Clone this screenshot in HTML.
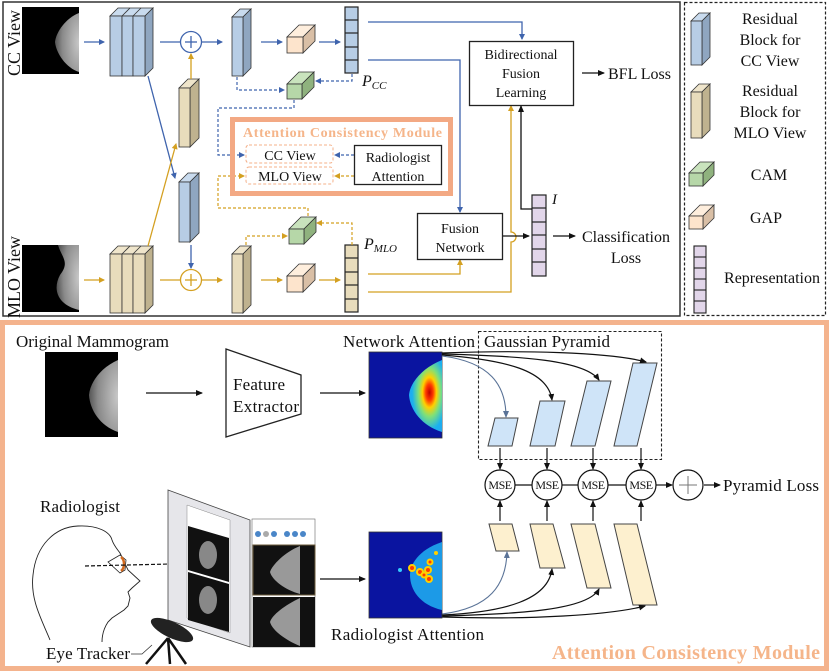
<!DOCTYPE html>
<html><head><meta charset="utf-8"><style>
html,body{margin:0;padding:0;background:#fff;}
svg{display:block;}
text{font-family:"Liberation Serif",serif;fill:#111;}
</style></head><body>
<svg width="829" height="671" viewBox="0 0 829 671" xmlns="http://www.w3.org/2000/svg">
<defs>
<marker id="ab" markerWidth="6" markerHeight="6" refX="5" refY="3" orient="auto" markerUnits="userSpaceOnUse"><path d="M0,0 L6,3 L0,6 z" fill="#3f64ad"/></marker>
<marker id="at" markerWidth="6" markerHeight="6" refX="5" refY="3" orient="auto" markerUnits="userSpaceOnUse"><path d="M0,0 L6,3 L0,6 z" fill="#d4a021"/></marker>
<marker id="ak" markerWidth="7" markerHeight="6" refX="6" refY="3" orient="auto" markerUnits="userSpaceOnUse"><path d="M0,0 L7,3 L0,6 z" fill="#111"/></marker>
<marker id="ag" markerWidth="7" markerHeight="6" refX="6" refY="3" orient="auto" markerUnits="userSpaceOnUse"><path d="M0,0 L7,3 L0,6 z" fill="#5a7397"/></marker>
<radialGradient id="mam" cx="1" cy="0.5" r="1"><stop offset="0" stop-color="#c8c8c8"/><stop offset="0.7" stop-color="#8a8a8a"/><stop offset="1" stop-color="#555"/></radialGradient>
<radialGradient id="heat" cx="0.62" cy="0.45" r="0.75"><stop offset="0" stop-color="#c00000"/><stop offset="0.15" stop-color="#ff3a00"/><stop offset="0.28" stop-color="#ffd000"/><stop offset="0.45" stop-color="#7ee07a"/><stop offset="0.7" stop-color="#1ab0f0"/><stop offset="1" stop-color="#2aa0f0"/></radialGradient>
</defs>

<rect x="3" y="2" width="677" height="314" fill="none" stroke="#333" stroke-width="1.5"/>
<rect x="684.5" y="2.5" width="141" height="313" fill="none" stroke="#222" stroke-width="1.2" stroke-dasharray="3,2"/>

<text transform="translate(20,43) rotate(-90)" text-anchor="middle" font-size="18">CC View</text>
<text transform="translate(20,277) rotate(-90)" text-anchor="middle" font-size="18">MLO View</text>
<rect x="22" y="7" width="57" height="67" fill="#000"/>
<path d="M79,13 C66,18 56,32 55,42 C56,53 66,68 79,72 z" fill="url(#mam)"/>
<rect x="22" y="245" width="57" height="67" fill="#000"/>
<path d="M58,245 C62,258 70,262 60,275 C52,290 58,305 79,310 L79,245 z" fill="url(#mam)"/>

<g stroke="#333" stroke-width="0.8">
<polygon points="110,16 118,8 153,8 145,16" fill="#c9dbee"/>
<polygon points="145,16 153,8 153,68 145,76" fill="#8fa6c0"/>
<rect x="110" y="16" width="12" height="60" fill="#b7cde5"/>
<rect x="122" y="16" width="11" height="60" fill="#b7cde5"/>
<rect x="133" y="16" width="12" height="60" fill="#b7cde5"/>
<line x1="122" y1="16" x2="130" y2="8"/><line x1="133" y1="16" x2="141" y2="8"/>
</g>
<g stroke="#333" stroke-width="0.8">
<polygon points="110,254 118,246 153,246 145,254" fill="#efe5cb"/>
<polygon points="145,254 153,246 153,305 145,313" fill="#bfb28f"/>
<rect x="110" y="254" width="12" height="59" fill="#e8dcbc"/>
<rect x="122" y="254" width="11" height="59" fill="#e8dcbc"/>
<rect x="133" y="254" width="12" height="59" fill="#e8dcbc"/>
<line x1="122" y1="254" x2="130" y2="246"/><line x1="133" y1="254" x2="141" y2="246"/>
</g>
<g stroke="#333" stroke-width="0.8">
<polygon points="179,88 188,79 199,79 190,88" fill="#efe5cb"/>
<polygon points="190,88 199,79 199,138 190,147" fill="#bfb28f"/>
<rect x="179" y="88" width="11" height="59" fill="#e8dcbc"/>
<polygon points="179,182 188,173 199,173 190,182" fill="#c9dbee"/>
<polygon points="190,182 199,173 199,233 190,242" fill="#8fa6c0"/>
<rect x="179" y="182" width="11" height="60" fill="#b7cde5"/>
<polygon points="232,17 240,9 251,9 243,17" fill="#c9dbee"/>
<polygon points="243,17 251,9 251,68 243,76" fill="#8fa6c0"/>
<rect x="232" y="17" width="11" height="59" fill="#b7cde5"/>
<polygon points="232,254 240,246 251,246 243,254" fill="#efe5cb"/>
<polygon points="243,254 251,246 251,305 243,313" fill="#bfb28f"/>
<rect x="232" y="254" width="11" height="59" fill="#e8dcbc"/>
<polygon points="287,37 299,25 315,25 303,37" fill="#feeedd"/>
<polygon points="303,37 315,25 315,41 303,53" fill="#d9bfa6"/>
<rect x="287" y="37" width="16" height="16" fill="#fde4cc"/>
<polygon points="287,276 299,264 315,264 303,276" fill="#feeedd"/>
<polygon points="303,276 315,264 315,280 303,292" fill="#d9bfa6"/>
<rect x="287" y="276" width="16" height="16" fill="#fde4cc"/>
<polygon points="287,84 299,72 314,72 302,84" fill="#c9e3bd"/>
<polygon points="302,84 314,72 314,87 302,99" fill="#8fb27e"/>
<rect x="287" y="84" width="15" height="15" fill="#b6d7a8"/>
<polygon points="289,229 301,217 316,217 304,229" fill="#c9e3bd"/>
<polygon points="304,229 316,217 316,232 304,244" fill="#8fb27e"/>
<rect x="289" y="229" width="15" height="15" fill="#b6d7a8"/>
</g>
<g stroke="#222" stroke-width="1.2">
<rect x="345" y="7" width="13" height="66" fill="#b7cde5"/>
<line x1="345" y1="20" x2="358" y2="20"/><line x1="345" y1="33" x2="358" y2="33"/><line x1="345" y1="47" x2="358" y2="47"/><line x1="345" y1="60" x2="358" y2="60"/>
<rect x="345" y="245" width="13" height="67" fill="#e8dcbc"/>
<line x1="345" y1="258" x2="358" y2="258"/><line x1="345" y1="272" x2="358" y2="272"/><line x1="345" y1="285" x2="358" y2="285"/><line x1="345" y1="299" x2="358" y2="299"/>
<rect x="532" y="195" width="14" height="81" fill="#e2d6ea"/>
<line x1="532" y1="208" x2="546" y2="208"/><line x1="532" y1="222" x2="546" y2="222"/><line x1="532" y1="235" x2="546" y2="235"/><line x1="532" y1="249" x2="546" y2="249"/><line x1="532" y1="262" x2="546" y2="262"/>
</g>
<text x="362" y="86" font-size="16" font-style="italic">P<tspan font-size="11" dy="3">CC</tspan></text>
<text x="364" y="249" font-size="16" font-style="italic">P<tspan font-size="11" dy="3">MLO</tspan></text>
<text x="552" y="204" font-size="15" font-style="italic">I</text>

<g stroke="#3f64ad" stroke-width="1.3" fill="none">
<line x1="84" y1="42" x2="104" y2="42" marker-end="url(#ab)"/>
<line x1="160" y1="42" x2="180" y2="42"/>
<circle cx="191" cy="42" r="10.5"/>
<line x1="185" y1="42" x2="197" y2="42"/><line x1="191" y1="36" x2="191" y2="48"/>
<line x1="202" y1="42" x2="222" y2="42" marker-end="url(#ab)"/>
<line x1="261" y1="42" x2="282" y2="42" marker-end="url(#ab)"/>
<line x1="319" y1="42" x2="340" y2="42" marker-end="url(#ab)"/>
<line x1="148" y1="76" x2="175" y2="178" marker-end="url(#ab)"/>
<line x1="191" y1="245" x2="191" y2="268" marker-end="url(#ab)"/>
<polyline points="368,22 522,22 522,39" marker-end="url(#ab)"/>
<polyline points="368,60 460,60 460,212" marker-end="url(#ab)"/>
</g>
<g stroke="#3f64ad" stroke-width="1.2" fill="none" stroke-dasharray="3,2">
<polyline points="237,77 237,90 284,90" marker-end="url(#ab)"/>
<polyline points="352,74 352,81 316,81" marker-end="url(#ab)"/>
<polyline points="294,100 294,108 218,108 218,155 244,155" marker-end="url(#ab)"/>
<line x1="354" y1="155" x2="335" y2="155" marker-end="url(#ab)"/>
</g>
<g stroke="#d4a021" stroke-width="1.3" fill="none">
<line x1="84" y1="280" x2="104" y2="280" marker-end="url(#at)"/>
<line x1="160" y1="280" x2="180" y2="280"/>
<circle cx="191" cy="280" r="10.5"/>
<line x1="185" y1="280" x2="197" y2="280"/><line x1="191" y1="274" x2="191" y2="286"/>
<line x1="202" y1="280" x2="222" y2="280" marker-end="url(#at)"/>
<line x1="261" y1="280" x2="282" y2="280" marker-end="url(#at)"/>
<line x1="319" y1="280" x2="340" y2="280" marker-end="url(#at)"/>
<line x1="148" y1="246" x2="176" y2="144" marker-end="url(#at)"/>
<line x1="191" y1="79" x2="191" y2="54" marker-end="url(#at)"/>
<polyline points="368,274 460,274 460,260" marker-end="url(#at)"/>
<path d="M368,292 L511,292 L511,242 A5,5 0 0 0 511,232 L511,106" marker-end="url(#at)"/>
</g>
<g stroke="#d4a021" stroke-width="1.2" fill="none" stroke-dasharray="3,2">
<line x1="354" y1="176" x2="335" y2="176" marker-end="url(#at)"/>
<polyline points="308,216 308,208 218,208 218,176 244,176" marker-end="url(#at)"/>
<polyline points="246,245 246,236 287,236" marker-end="url(#at)"/>
<polyline points="352,245 352,223 317,223" marker-end="url(#at)"/>
</g>
<g stroke="#111" stroke-width="1.3" fill="none">
<line x1="503" y1="236" x2="529" y2="236" marker-end="url(#ak)"/>
<polyline points="532,209 521,209 521,106" marker-end="url(#ak)"/>
<line x1="553" y1="236" x2="575" y2="236" marker-end="url(#ak)"/>
<line x1="582" y1="73" x2="604" y2="73" marker-end="url(#ak)"/>
</g>

<rect x="232.5" y="119.5" width="218" height="74" fill="none" stroke="#f3a984" stroke-width="5"/>
<text x="243" y="137" font-size="14" font-weight="bold" style="fill:#f5b58a" textLength="199">Attention Consistency Module</text>
<rect x="246" y="145" width="87" height="18" rx="3" fill="none" stroke="#f4b08a" stroke-dasharray="3,2"/>
<rect x="246" y="167" width="87" height="17" rx="3" fill="none" stroke="#f4b08a" stroke-dasharray="3,2"/>
<text x="290" y="160" font-size="14" text-anchor="middle">CC View</text>
<text x="290" y="181" font-size="14" text-anchor="middle">MLO View</text>
<rect x="354.5" y="145.5" width="87" height="39" fill="#fff" stroke="#222" stroke-width="1.3"/>
<text x="398" y="162" font-size="14" text-anchor="middle">Radiologist</text>
<text x="398" y="181" font-size="14" text-anchor="middle">Attention</text>

<rect x="469.5" y="41.5" width="104" height="64" fill="#fff" stroke="#222" stroke-width="1.3"/>
<text x="521" y="59" font-size="14" text-anchor="middle">Bidirectional</text>
<text x="521" y="78" font-size="14" text-anchor="middle">Fusion</text>
<text x="521" y="97" font-size="14" text-anchor="middle">Learning</text>
<text x="608" y="79" font-size="16">BFL Loss</text>
<rect x="417.5" y="213.5" width="85" height="46" fill="#fff" stroke="#222" stroke-width="1.3"/>
<text x="460" y="233" font-size="14" text-anchor="middle">Fusion</text>
<text x="460" y="252" font-size="14" text-anchor="middle">Network</text>
<text x="626" y="242" font-size="16" text-anchor="middle">Classification</text>
<text x="626" y="263" font-size="16" text-anchor="middle">Loss</text>

<g stroke="#333" stroke-width="0.8">
<polygon points="691,21 699,13 710,13 702,21" fill="#c9dbee"/>
<polygon points="702,21 710,13 710,57 702,65" fill="#8fa6c0"/>
<rect x="691" y="21" width="11" height="44" fill="#b7cde5"/>
<polygon points="691,92 699,84 710,84 702,92" fill="#efe5cb"/>
<polygon points="702,92 710,84 710,130 702,138" fill="#bfb28f"/>
<rect x="691" y="92" width="11" height="46" fill="#e8dcbc"/>
<polygon points="689,173 700,162 714,162 703,173" fill="#c9e3bd"/>
<polygon points="703,173 714,162 714,175 703,186" fill="#8fb27e"/>
<rect x="689" y="173" width="14" height="13" fill="#b6d7a8"/>
<polygon points="689,216 700,205 714,205 703,216" fill="#feeedd"/>
<polygon points="703,216 714,205 714,218 703,229" fill="#d9bfa6"/>
<rect x="689" y="216" width="14" height="13" fill="#fde4cc"/>
</g>
<g stroke="#222" stroke-width="1.1">
<rect x="694" y="246" width="12" height="67" fill="#e2d6ea"/>
<line x1="694" y1="257" x2="706" y2="257"/><line x1="694" y1="268" x2="706" y2="268"/><line x1="694" y1="279" x2="706" y2="279"/><line x1="694" y1="290" x2="706" y2="290"/><line x1="694" y1="301" x2="706" y2="301"/>
</g>
<g font-size="16" text-anchor="middle">
<text x="770" y="24">Residual</text><text x="770" y="45">Block for</text><text x="770" y="66">CC View</text>
<text x="770" y="96">Residual</text><text x="770" y="117">Block for</text><text x="770" y="138">MLO View</text>
<text x="769" y="180">CAM</text><text x="766" y="223">GAP</text><text x="772" y="283">Representation</text>
</g>

<rect x="2.5" y="322.5" width="824" height="346" fill="none" stroke="#f4b38d" stroke-width="5"/>
<text x="16" y="347" font-size="17" textLength="153">Original Mammogram</text>
<rect x="45" y="352" width="73" height="85" fill="#000"/>
<path d="M118,360 C100,368 90,383 89,395 C90,410 100,426 118,432 z" fill="url(#mam)"/>
<line x1="146" y1="393" x2="202" y2="393" stroke="#111" stroke-width="1.3" marker-end="url(#ak)"/>
<polygon points="226,349 301,375 301,414 226,437" fill="#fff" stroke="#222" stroke-width="1.3"/>
<text x="233" y="390" font-size="17" textLength="52">Feature</text>
<text x="233" y="412" font-size="17" textLength="66">Extractor</text>
<line x1="320" y1="393" x2="365" y2="393" stroke="#111" stroke-width="1.3" marker-end="url(#ak)"/>
<text x="343" y="347" font-size="17" textLength="132">Network Attention</text>
<rect x="369" y="352" width="73" height="86" fill="#0a14a0" stroke="#333" stroke-width="0.8"/>
<path d="M442,360 C422,368 410,383 409,395 C410,410 422,426 442,432 z" fill="url(#heat)"/>

<rect x="478.5" y="331.5" width="183" height="128" fill="none" stroke="#222" stroke-width="1.1" stroke-dasharray="3,2"/>
<text x="484" y="347" font-size="17" textLength="126">Gaussian Pyramid</text>
<g fill="#cfe4f8" stroke="#444" stroke-width="1">
<polygon points="495,418 518,418 512,446 488,446"/>
<polygon points="540,401 565,401 555,446 530,446"/>
<polygon points="587,381 611,381 595,446 571,446"/>
<polygon points="633,363 657,363 637,446 614,446"/>
</g>
<g fill="#fdf0cf" stroke="#444" stroke-width="1">
<polygon points="489,524 512,524 519,551 496,551"/>
<polygon points="530,524 553,524 565,568 540,568"/>
<polygon points="571,524 595,524 611,588 587,588"/>
<polygon points="614,524 637,524 657,605 633,605"/>
</g>
<g stroke="#111" stroke-width="1.2" fill="none">
<path d="M442,353 C520,350 610,352 646,362" marker-end="url(#ak)"/>
<path d="M442,354 C520,356 585,360 599,380" marker-end="url(#ak)"/>
<path d="M442,355 C505,360 548,370 552,400" marker-end="url(#ak)"/>
<path d="M442,615 C505,612 548,600 552,569" marker-end="url(#ak)"/>
<path d="M442,616 C520,614 588,610 599,589" marker-end="url(#ak)"/>
<path d="M442,617 C530,620 610,615 645,606" marker-end="url(#ak)"/>
</g>
<path d="M442,356 C490,362 506,385 506,417" stroke="#5a7397" stroke-width="1.1" fill="none" marker-end="url(#ag)"/>
<path d="M442,614 C490,608 506,585 507,552" stroke="#5a7397" stroke-width="1.1" fill="none" marker-end="url(#ag)"/>

<g stroke="#111" stroke-width="1.2" fill="none">
<line x1="500" y1="448" x2="500" y2="469" marker-end="url(#ak)"/>
<line x1="547" y1="448" x2="547" y2="469" marker-end="url(#ak)"/>
<line x1="593" y1="448" x2="593" y2="469" marker-end="url(#ak)"/>
<line x1="641" y1="448" x2="641" y2="469" marker-end="url(#ak)"/>
<line x1="500" y1="521" x2="500" y2="501" marker-end="url(#ak)"/>
<line x1="547" y1="521" x2="547" y2="501" marker-end="url(#ak)"/>
<line x1="593" y1="521" x2="593" y2="501" marker-end="url(#ak)"/>
<line x1="641" y1="521" x2="641" y2="501" marker-end="url(#ak)"/>
<line x1="515" y1="485" x2="532" y2="485"/><line x1="562" y1="485" x2="578" y2="485"/><line x1="608" y1="485" x2="626" y2="485"/>
<line x1="656" y1="485" x2="672" y2="485" marker-end="url(#ak)"/>
<line x1="704" y1="485" x2="720" y2="485" marker-end="url(#ak)"/>
<circle cx="500" cy="485" r="15" fill="#fff"/><circle cx="547" cy="485" r="15" fill="#fff"/>
<circle cx="593" cy="485" r="15" fill="#fff"/><circle cx="641" cy="485" r="15" fill="#fff"/>
<circle cx="688" cy="485" r="15" fill="#fff"/>
</g>
<line x1="679" y1="485" x2="697" y2="485" stroke="#777" stroke-width="1"/>
<line x1="688" y1="476" x2="688" y2="494" stroke="#777" stroke-width="1"/>
<g font-size="12" text-anchor="middle" letter-spacing="-0.5">
<text x="500" y="489">MSE</text><text x="547" y="489">MSE</text>
<text x="593" y="489">MSE</text><text x="641" y="489">MSE</text>
</g>
<text x="723" y="491" font-size="17" textLength="96">Pyramid Loss</text>

<line x1="320" y1="579" x2="365" y2="579" stroke="#111" stroke-width="1.3" marker-end="url(#ak)"/>
<rect x="369" y="532" width="73" height="86" fill="#0a14a0" stroke="#333" stroke-width="0.8"/>
<path d="M442,542 C418,550 410,565 410,575 C410,590 420,605 442,610 z" fill="#1ea8ee" opacity="0.9"/>
<g fill="#ff3a00" stroke="#ffd000" stroke-width="2">
<circle cx="412" cy="568" r="3"/><circle cx="420" cy="572" r="3"/><circle cx="428" cy="570" r="3"/>
<circle cx="430" cy="562" r="2.5"/><circle cx="429" cy="579" r="3"/><circle cx="424" cy="575" r="2.5"/>
</g>
<circle cx="400" cy="570" r="2" fill="#3cf"/><circle cx="436" cy="553" r="2" fill="#ffd000"/>
<text x="331" y="640" font-size="17" textLength="153">Radiologist  Attention</text>

<text x="40" y="512" font-size="17" textLength="80">Radiologist</text>
<path d="M50,640 C42,620 30,600 33,575 C36,545 55,527 78,526 C98,525 110,532 112,540 C114,546 118,550 120,553 L128,570 L140,581 L132,588 L128,592 L130,598 L128,606 L124,610 L118,614 L112,618 L108,622 C104,628 102,635 102,642" fill="none" stroke="#222" stroke-width="0.9"/>
<path d="M108,562 L120,555 L126,560 L125,570 L120,573 z" fill="#fff" stroke="#222" stroke-width="0.8"/>
<path d="M121,557 C125,560 125,568 121,571" fill="none" stroke="#d2691e" stroke-width="2.5"/>
<line x1="85" y1="566" x2="213" y2="563" stroke="#111" stroke-width="1.2" stroke-dasharray="4,2"/>
<polygon points="168,490 250,520 250,647 168,620" fill="#e6e6ea" stroke="#444" stroke-width="0.8"/>
<polygon points="187,505 230,520 230,633 187,618" fill="#fff" stroke="#888" stroke-width="0.5"/>
<polygon points="188,526 229,538 229,582 188,570" fill="#111"/>
<polygon points="188,572 229,584 229,632 188,620" fill="#111"/>
<ellipse cx="208" cy="555" rx="9" ry="14" fill="#888"/>
<ellipse cx="208" cy="600" rx="9" ry="14" fill="#888"/>
<rect x="252" y="519" width="63" height="128" fill="#fff" stroke="#666" stroke-width="0.6"/>
<g fill="#4a86c8"><circle cx="258" cy="534" r="3"/><circle cx="266" cy="534" r="3" fill="#aaa"/><circle cx="274" cy="534" r="3"/><circle cx="287" cy="534" r="3"/><circle cx="295" cy="534" r="3"/><circle cx="303" cy="534" r="3"/></g>
<rect x="253" y="545" width="62" height="50" fill="#111" stroke="#6b5a3a" stroke-width="1"/>
<rect x="253" y="597" width="62" height="50" fill="#111"/>
<path d="M300,546 C285,552 272,565 270,572 C272,580 285,590 300,594 z" fill="#999"/>
<path d="M300,598 C285,605 272,615 270,622 C272,630 285,640 300,646 z" fill="#999"/>
<ellipse cx="172" cy="630" rx="23" ry="8" transform="rotate(25 172 630)" fill="#222"/>
<g stroke="#111" stroke-width="2.5"><line x1="168" y1="638" x2="146" y2="664"/><line x1="168" y1="638" x2="170" y2="664"/><line x1="168" y1="638" x2="186" y2="664"/></g>
<path d="M131,654 L142,654 L152,645" fill="none" stroke="#333" stroke-width="0.8"/>
<text x="46" y="659" font-size="17" textLength="84">Eye Tracker</text>
<text x="552" y="659" font-size="20" font-weight="bold" style="fill:#f5b58a" textLength="268">Attention Consistency Module</text>
</svg>
</body></html>
